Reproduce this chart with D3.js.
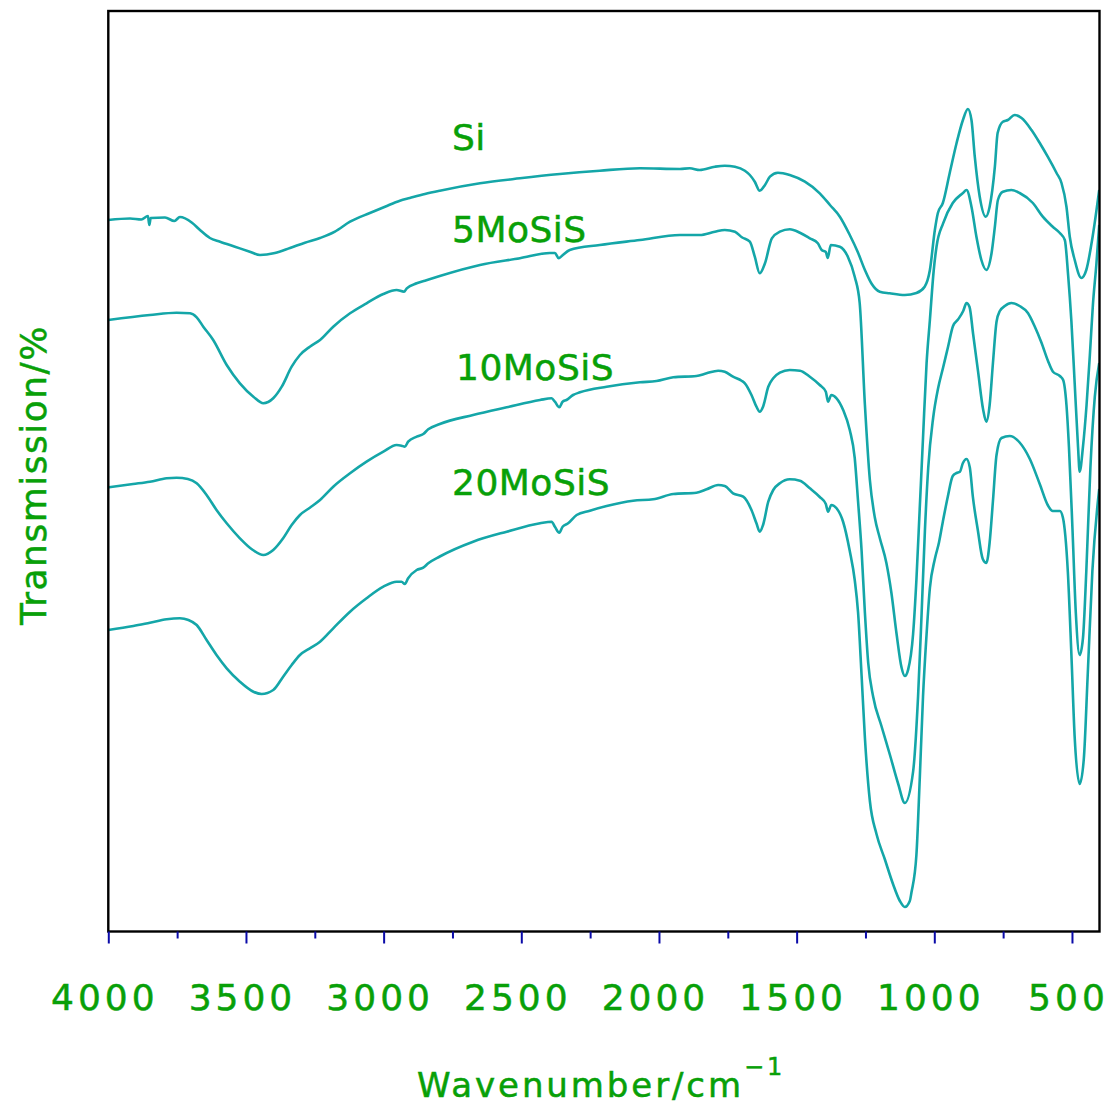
<!DOCTYPE html>
<html>
<head>
<meta charset="utf-8">
<script src="https://cdn.jsdelivr.net/npm/d3@7"></script>
<style>
  html, body { margin: 0; padding: 0; background: #fff; }
  svg { display: block; }
</style>
</head>
<body>
<svg id="chart" width="1114" height="1109"></svg>
<script>
// FTIR transmission spectra (offset, arbitrary units) vs wavenumber (cm^-1)
const seriesNames = ["Si", "5MoSiS", "10MoSiS", "20MoSiS"];

const wavenumbersSi = [4000,3921,3880,3856,3851,3846,3794,3760,3740,3696,3667,3631,3594,3540,3486,3449,3395,3340,3286,3231,3177,3122,3050,2995,2941,2905,2850,2796,2650,2505,2360,2215,2069,1924,1888,1852,1797,1761,1724,1688,1670,1652,1634,1615,1597,1568,1525,1470,1416,1379,1343,1307,1278,1252,1227,1198,1162,1107,1065,1035,1016,998,987,969,944,919,896,878,865,853,835,813,799,780,770,751,733,708,683,647,617,588,556,538,520,508,490,466,448,425,401];
const valuesSi = [71.1,71.25,71.15,71.5,70.6,71.3,71.35,71.0,71.4,70.83,70.1,69.3,68.93,68.43,67.93,67.6,67.8,68.3,68.83,69.3,69.93,70.93,71.8,72.43,73.03,73.3,73.7,74.03,74.77,75.27,75.7,76.03,76.27,76.2,76.27,76.1,76.43,76.53,76.43,76.03,75.6,74.93,74.03,74.6,75.43,75.83,75.6,74.93,73.77,72.6,71.43,69.6,67.9,66.1,64.7,63.93,63.77,63.6,63.8,64.43,66.1,70.1,71.8,72.8,75.8,78.8,81.1,82.2,81.1,77.43,73.43,71.43,72.43,76.43,79.8,80.93,81.1,81.6,81.3,80.1,78.8,77.43,75.8,74.8,72.43,69.43,67.1,65.3,66.1,69.43,74.1];

const wavenumbers5 = [4000,3849,3752,3703,3679,3655,3619,3570,3522,3473,3437,3401,3370,3334,3304,3268,3231,3183,3122,3062,3001,2953,2926,2916,2880,2850,2796,2650,2505,2396,2378,2364,2353,2324,2215,2069,1924,1852,1797,1761,1724,1699,1670,1652,1634,1615,1590,1561,1525,1488,1452,1423,1409,1394,1387,1376,1343,1314,1289,1271,1252,1234,1216,1198,1174,1156,1137,1119,1107,1095,1077,1065,1053,1041,1028,1016,1002,992,968,933,896,883,865,847,829,811,792,780,769,751,720,690,642,606,570,544,526,514,502,490,478,472,460,447,435,424,411,401];
const values5 = [61.1,61.6,61.83,61.77,61.37,60.43,59.1,56.6,54.77,53.43,52.77,53.27,54.43,56.43,57.6,58.43,59.1,60.43,61.77,62.77,63.7,64.1,63.93,64.27,64.77,65.03,65.5,66.6,67.27,67.8,67.8,67.27,67.5,68.1,68.6,69.1,69.6,69.6,69.93,70.1,69.93,69.37,68.93,67.43,65.77,66.77,69.27,69.93,70.17,69.83,69.27,68.77,68.1,67.9,67.3,68.6,68.43,67.43,65.43,62.8,52.6,45.1,41.35,39.3,36.8,33.85,29.7,26.35,25.5,26.14,29.7,35.1,42.2,49.3,56.8,61.1,66.1,68.43,70.77,72.8,73.8,74.1,72.43,69.43,67.1,66.1,67.8,70.43,73.1,73.93,74.1,73.8,72.8,71.43,70.43,69.8,69.1,65.6,60.93,54.7,48.43,45.93,48.43,52.6,57.6,62.6,66.8,70.6];

const wavenumbers10 = [4000,3910,3849,3788,3752,3711,3679,3643,3607,3570,3522,3475,3437,3401,3365,3334,3304,3268,3231,3183,3122,3062,3001,2953,2935,2923,2911,2880,2856,2838,2796,2675,2553,2432,2390,2378,2362,2350,2336,2312,2287,2190,2069,2009,1948,1864,1827,1785,1761,1731,1700,1688,1664,1646,1634,1622,1603,1585,1561,1525,1488,1452,1416,1394,1386,1374,1355,1331,1307,1289,1277,1264,1252,1240,1222,1192,1161,1131,1107,1077,1059,1046,1034,1022,1004,986,968,950,932,914,895,883,872,859,841,823,811,799,787,774,762,744,720,690,660,636,611,587,569,544,532,520,511,498,486,472,460,448,433,417,401];
const values10 = [44.37,44.7,44.93,45.27,45.33,45.2,44.77,43.6,42.1,40.77,39.27,38.1,37.6,38.1,39.27,40.6,41.6,42.33,43.1,44.43,45.77,46.93,47.93,48.6,48.53,48.43,48.93,49.43,49.7,50.17,50.7,51.6,52.37,53.1,53.27,52.93,52.37,52.93,53.1,53.6,53.87,54.43,54.87,55.0,55.37,55.5,55.77,56.03,55.93,55.43,55.03,54.77,53.6,52.43,51.93,52.43,54.43,55.27,55.83,56.1,56.03,55.43,54.6,53.93,52.93,53.6,53.27,52.1,50.1,47.3,43.0,38.0,31.8,26.8,23.43,20.5,17.6,14.7,12.8,15.93,23.43,31.8,40.1,46.35,51.35,54.3,56.35,58.43,60.5,61.14,62.0,62.8,62.4,59.7,55.93,52.2,50.93,52.6,56.8,60.93,62.0,62.5,62.8,62.5,61.8,60.5,58.85,57.0,55.93,55.5,55.1,52.6,48.43,40.1,31.8,27.6,29.3,35.93,46.35,53.43,56.8];

const wavenumbers20 = [4000,3909,3849,3788,3740,3709,3679,3643,3607,3570,3522,3473,3443,3401,3365,3334,3304,3268,3231,3183,3122,3062,3001,2953,2935,2923,2911,2880,2856,2838,2796,2675,2553,2432,2390,2378,2362,2350,2330,2299,2251,2190,2094,2021,1948,1864,1827,1785,1761,1731,1694,1664,1646,1634,1622,1603,1585,1561,1525,1488,1452,1416,1394,1386,1374,1355,1331,1307,1289,1277,1264,1252,1234,1210,1180,1150,1125,1107,1089,1083,1065,1053,1041,1028,1016,998,983,969,951,933,919,907,896,883,871,860,842,824,811,799,787,774,756,726,690,653,617,588,570,544,533,515,502,490,472,457,443,426,401];
const values20 = [30.1,30.5,30.83,31.17,31.27,31.1,30.6,29.1,27.6,26.27,24.93,23.93,23.7,24.1,25.43,26.6,27.6,28.27,28.93,30.27,31.93,33.27,34.43,34.93,34.93,34.7,35.27,36.1,36.33,36.77,37.45,38.93,39.93,40.77,40.93,40.43,39.83,40.43,40.77,41.6,42.03,42.5,43.03,43.17,43.7,43.83,44.17,44.6,44.5,43.77,43.43,42.1,40.77,39.93,40.6,42.93,44.1,44.77,45.17,45.03,44.27,43.4,42.7,41.93,42.6,42.27,40.9,38.0,35.1,31.9,25.5,19.3,13.0,9.7,7.2,4.7,3.0,2.4,3.0,3.85,7.6,15.1,23.43,29.7,34.3,37.2,38.85,40.93,43.43,45.5,45.8,45.93,46.8,47.2,46.35,43.43,40.1,37.2,36.8,38.85,43.0,47.6,49.3,49.5,48.85,47.2,44.7,42.6,42.0,42.0,41.35,35.93,27.6,19.3,14.7,17.2,25.5,35.93,44.2];

const majorTicks = [4000, 3500, 3000, 2500, 2000, 1500, 1000, 500];
const minorTicks = [3750, 3250, 2750, 2250, 1750, 1250, 750];

const seriesLabelPos = [
  { name: "Si",      x: 452, y: 150 },
  { name: "5MoSiS",  x: 452, y: 242 },
  { name: "10MoSiS", x: 456, y: 380 },
  { name: "20MoSiS", x: 452, y: 495 }
];

const series = [
  { name: seriesNames[0], w: wavenumbersSi, v: valuesSi },
  { name: seriesNames[1], w: wavenumbers5,  v: values5 },
  { name: seriesNames[2], w: wavenumbers10, v: values10 },
  { name: seriesNames[3], w: wavenumbers20, v: values20 }
];

const plot = { left: 108.3, right: 1099.5, top: 11, bottom: 931.5 };
const lineColor = "#14a6a8";
const textColor = "#08a008";
const tickColor = "#0a0aa8";

const svg = d3.select("#chart");

const x = d3.scaleLinear().domain([4000, 400]).range([plot.left, plot.right]);
const y = d3.scaleLinear().domain([0, 92]).range([931, 11]);

svg.append("defs").append("clipPath").attr("id", "plotclip")
  .append("rect")
  .attr("x", plot.left).attr("y", plot.top)
  .attr("width", plot.right - plot.left).attr("height", plot.bottom - plot.top);

const line = d3.line()
  .x(d => x(d[0]))
  .y(d => y(d[1]))
  .curve(d3.curveMonotoneX);

const gLines = svg.append("g").attr("clip-path", "url(#plotclip)");
series.forEach(s => {
  const pts = s.w.map((w, i) => [w, s.v[i]]);
  gLines.append("path")
    .datum(pts)
    .attr("d", line)
    .attr("fill", "none")
    .attr("stroke", lineColor)
    .attr("stroke-width", 2.6)
    .attr("stroke-linejoin", "round");
});

// frame
svg.append("rect")
  .attr("x", plot.left).attr("y", plot.top)
  .attr("width", plot.right - plot.left).attr("height", plot.bottom - plot.top)
  .attr("fill", "none").attr("stroke", "#000").attr("stroke-width", 2.4);

// text styling shared by all labels
function greenText(sel, size) {
  return sel.attr("fill", textColor)
    .attr("stroke", textColor)
    .attr("stroke-width", 0.5)
    .attr("font-family", "DejaVu Sans")
    .attr("font-size", size);
}

// bottom axis: major and minor ticks, labels
const axisMajor = d3.axisBottom(x).tickValues(majorTicks).tickSize(12).tickFormat(d3.format("d"));
const gAxis = svg.append("g").attr("transform", `translate(0,${plot.bottom})`).call(axisMajor);
gAxis.select(".domain").remove();
gAxis.selectAll(".tick line").attr("stroke", tickColor).attr("stroke-width", 2);
greenText(gAxis.selectAll(".tick text"), 36)
  .attr("letter-spacing", "4px")
  .attr("dx", -4)
  .attr("y", 78)
  .attr("dy", 0);

const axisMinor = d3.axisBottom(x).tickValues(minorTicks).tickSize(7).tickFormat("");
const gMinor = svg.append("g").attr("transform", `translate(0,${plot.bottom})`).call(axisMinor);
gMinor.select(".domain").remove();
gMinor.selectAll(".tick line").attr("stroke", tickColor).attr("stroke-width", 2);

// axis titles
const xt = greenText(svg.append("text"), 34)
  .attr("x", 417).attr("y", 1097)
  .attr("letter-spacing", "2.9px");
xt.append("tspan").text("Wavenumber/cm");
xt.append("tspan").attr("font-size", 24).attr("dy", -22).attr("dx", 0).text("\u22121");

greenText(svg.append("text"), 36)
  .attr("transform", "translate(46,475) rotate(-90)")
  .attr("text-anchor", "middle")
  .attr("letter-spacing", "1.5px")
  .text("Transmission/%");

// series labels
greenText(svg.selectAll("text.series")
  .data(seriesLabelPos)
  .enter().append("text")
  .attr("class", "series"), 36)
  .attr("x", d => d.x).attr("y", d => d.y)
  .attr("letter-spacing", "0.5px")
  .text(d => d.name);
</script>
</body>
</html>
